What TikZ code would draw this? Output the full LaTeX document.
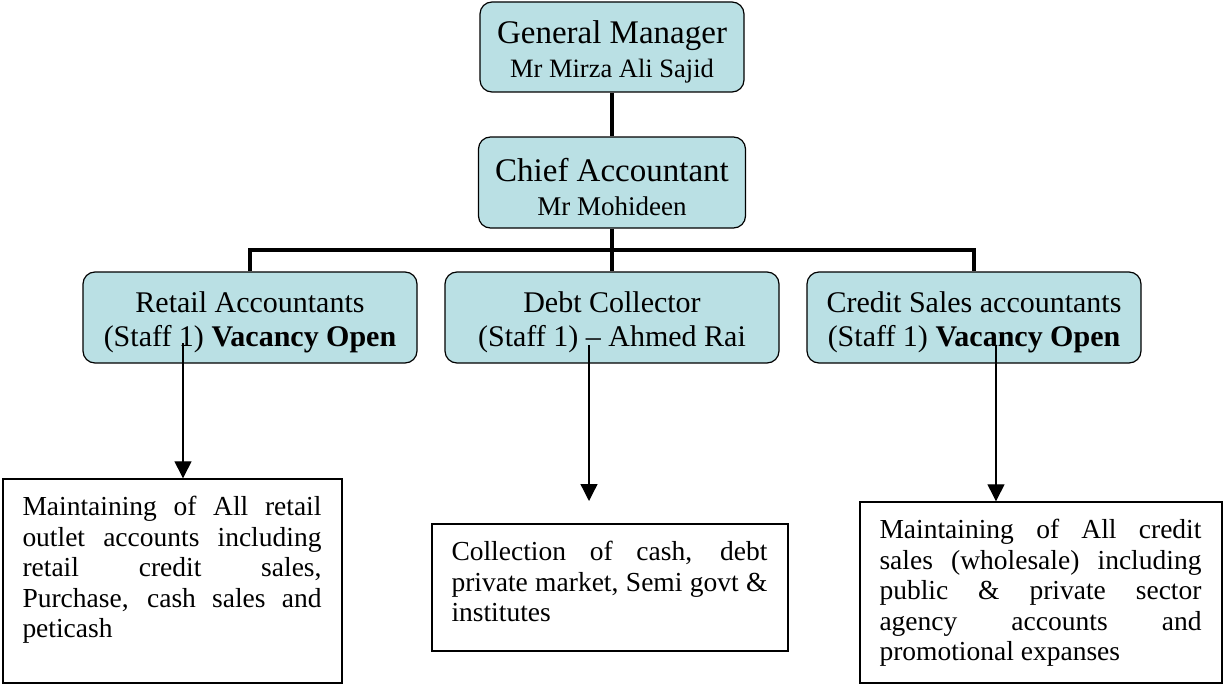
\documentclass[tikz,border=0pt]{standalone}
\usepackage{fontspec}
\setmainfont{Liberation Serif}
\usepackage{xcolor}
\usepackage{tikz}
\usetikzlibrary{arrows.meta,positioning}

\definecolor{boxblue}{RGB}{186,224,228}

\begin{document}
\begin{tikzpicture}[x=1pt, y=-1pt,
    headbox/.style={draw, line width=1.2pt, fill=boxblue, rounded corners=12pt, align=center, inner sep=0pt},
    dutybox/.style={draw, line width=1.4pt, inner sep=0pt},
    dutytext/.style={align=justify, inner sep=0pt, font=\fontsize{27.5}{30.5}\selectfont},
    bus/.style={line width=4.5pt, line join=miter},
    duty arrow/.style={line width=1.3pt, -{Triangle[length=17pt, width=17pt]}}]

    \useasboundingbox (0,0) rectangle (1224,685);

    % Duty box with justified text
    \newcommand{\dutynode}[6]{
        \pgfmathsetmacro{\tw}{#4-40}
        \node[dutybox, minimum width=#4pt, minimum height=#5pt] (#1) at (#2,#3) {};
        \node[dutytext, text width=\tw pt, below right=18pt and 20pt of #1.north west] (#1text) {#6};
    }

    % Management
    \node[headbox, minimum width=264pt, minimum height=90pt, font=\fontsize{33}{34}\selectfont] (gm) at (612,47)
        {\rule{0pt}{1em}General Manager\\{\fontsize{26.5}{34}\selectfont Mr Mirza Ali Sajid}};
    \node[headbox, minimum width=267pt, minimum height=91pt, font=\fontsize{33}{34}\selectfont] (chief) at (612,182.5)
        {\rule{0pt}{1em}Chief Accountant\\{\fontsize{27}{34}\selectfont Mr Mohideen}};

    % Staff
    \foreach \name/\x/\title/\staff in {
        retail/250/Retail Accountants/{(Staff 1) \textbf{Vacancy Open}},
        debt/612/Debt Collector/{(Staff 1) -- Ahmed Rai},
        credit/974/Credit Sales accountants/{(Staff 1) \textbf{Vacancy Open}}}
        \node[headbox, minimum width=334pt, minimum height=91pt, font=\fontsize{30}{34}\selectfont] (\name) at (\x,317.5) {\rule{0pt}{1em}\title\\\staff};

    % Lines
    \coordinate (bus) at (612,250);
    \draw[bus] (gm) -- (chief);
    \draw[bus] (chief) -- (debt);
    \draw[bus] (retail.north) |- (bus) -| (credit.north);

    % Duties
    \dutynode{retailduty}{172.5}{581}{339}{204}{Maintaining of All retail\linebreak outlet accounts including\linebreak retail credit sales,\linebreak Purchase, cash sales and\linebreak peticash}
    \dutynode{debtduty}{610}{587.5}{356}{127}{Collection of cash, debt\linebreak private market, Semi govt \&\linebreak institutes}
    \dutynode{creditduty}{1041}{592.5}{362}{181}{Maintaining of All credit\linebreak sales (wholesale) including\linebreak public \& private sector\linebreak agency accounts and\linebreak promotional expanses}

    \coordinate (retailtail) at (183,343);
    \coordinate (debttail) at (589,345);
    \coordinate (debthead) at (589,501);
    \coordinate (credittail) at (996,345);
    \draw[duty arrow] (retailtail) -- (retailtail |- retailduty.north);
    \draw[duty arrow] (debttail) -- (debthead);
    \draw[duty arrow] (credittail) -- (credittail |- creditduty.north);

\end{tikzpicture}
\end{document}
